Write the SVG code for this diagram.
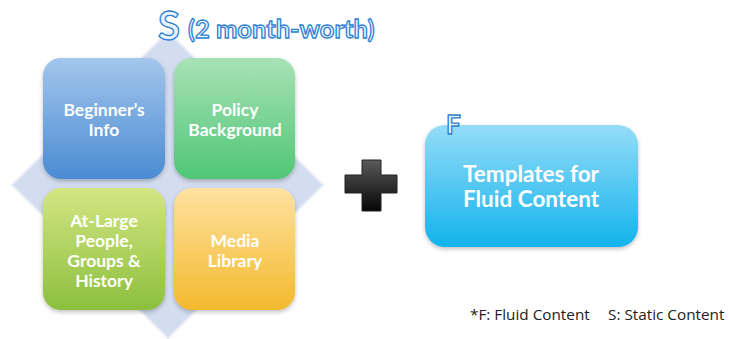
<svg xmlns="http://www.w3.org/2000/svg" width="729" height="339" viewBox="0 0 729 339">
<defs>
<style>
.lbl{font-family:Lato,"Open Sans","Liberation Sans",sans-serif;font-weight:bold;fill:#ffffff;text-anchor:middle}
.outl{font-family:Lato,"Open Sans","Liberation Sans",sans-serif;font-weight:bold;fill:#eaf4ff;stroke:#2f7fd0;stroke-width:1.3}
.foot{font-family:"Open Sans","Liberation Sans",sans-serif;font-size:15.3px;fill:#222}
</style>
<linearGradient id="gBlue" x1="0" y1="0" x2="0" y2="1"><stop offset="0" stop-color="#a3c6ec"/><stop offset="1" stop-color="#4a8bd3"/></linearGradient>
<linearGradient id="gGreen" x1="0" y1="0" x2="0" y2="1"><stop offset="0" stop-color="#a8e2b6"/><stop offset="1" stop-color="#4fc676"/></linearGradient>
<linearGradient id="gLime" x1="0" y1="0" x2="0" y2="1"><stop offset="0" stop-color="#d3e682"/><stop offset="1" stop-color="#8cbf3e"/></linearGradient>
<linearGradient id="gOrange" x1="0" y1="0" x2="0" y2="1"><stop offset="0" stop-color="#ffe2a0"/><stop offset="1" stop-color="#f3b92e"/></linearGradient>
<linearGradient id="gCyan" x1="0" y1="0" x2="0" y2="1"><stop offset="0" stop-color="#95dcf8"/><stop offset="1" stop-color="#12b3ec"/></linearGradient>
<linearGradient id="gPlus" x1="0" y1="0" x2="0" y2="1"><stop offset="0" stop-color="#5a5a5a"/><stop offset="1" stop-color="#050505"/></linearGradient>
<filter id="sh" x="-10%" y="-10%" width="120%" height="125%"><feDropShadow dx="0" dy="2" stdDeviation="2" flood-color="#000" flood-opacity="0.25"/></filter>
</defs>
<rect width="729" height="339" fill="#ffffff"/>
<g id="diamond">
<polygon points="168,32 323,185 168,338 12,185" fill="#d3ddef" stroke="#e6ecf6" stroke-width="2"/>
</g>
<g id="titleS">
<text class="outl" x="158" y="40" font-size="40" font-weight="normal">S</text>
<text class="outl" x="188" y="38" font-size="25.5">(2 month-worth)</text>
</g>
<g id="beginners">
<rect x="43" y="58" width="122" height="121" rx="18" fill="url(#gBlue)" filter="url(#sh)"/>
<text class="lbl" x="104" y="116" font-size="17.5">Beginner’s</text>
<text class="lbl" x="104" y="136" font-size="17.5">Info</text>
</g>
<g id="policy">
<rect x="174" y="58" width="121" height="121" rx="18" fill="url(#gGreen)" filter="url(#sh)"/>
<text class="lbl" x="235" y="116" font-size="17.5">Policy</text>
<text class="lbl" x="235" y="136" font-size="17.5">Background</text>
</g>
<g id="atlarge">
<rect x="43" y="188" width="122" height="122" rx="18" fill="url(#gLime)" filter="url(#sh)"/>
<text class="lbl" x="104" y="227" font-size="17.5">At-Large</text>
<text class="lbl" x="104" y="247" font-size="17.5">People,</text>
<text class="lbl" x="104" y="267" font-size="17.5">Groups &amp;</text>
<text class="lbl" x="104" y="287" font-size="17.5">History</text>
</g>
<g id="media">
<rect x="174" y="188" width="121" height="122" rx="18" fill="url(#gOrange)" filter="url(#sh)"/>
<text class="lbl" x="235" y="247" font-size="17.5">Media</text>
<text class="lbl" x="235" y="267" font-size="17.5">Library</text>
</g>
<g id="plus">
<path d="M362,160 H381 V175 H397 V193 H381 V211 H362 V193 H345 V175 H362 Z" fill="url(#gPlus)" stroke="#222" stroke-width="1"/>
</g>
<g id="templates">
<rect x="425" y="125" width="213" height="122" rx="20" fill="url(#gCyan)" filter="url(#sh)"/>
<text class="lbl" x="531" y="182" font-size="22.5">Templates for</text>
<text class="lbl" x="531" y="207" font-size="22.5">Fluid Content</text>
<text class="outl" x="446" y="134" font-size="26">F</text>
</g>
<g id="connectors"></g>
<g id="footnote">
<text class="foot" x="470" y="320">*F: Fluid Content</text>
<text class="foot" x="608" y="320">S: Static Content</text>
</g>
</svg>
